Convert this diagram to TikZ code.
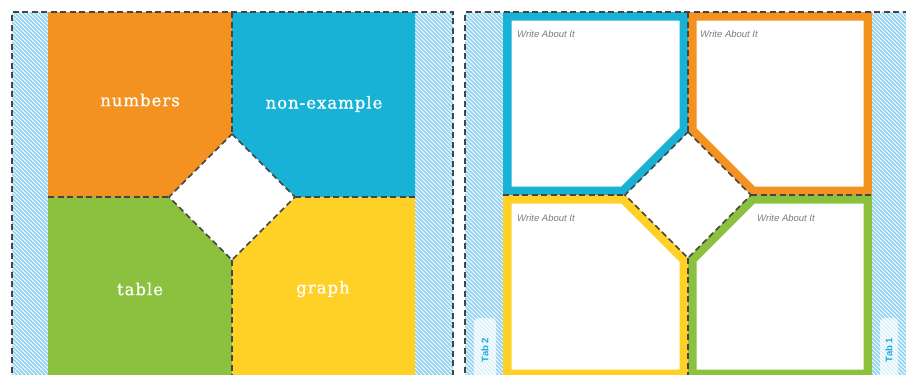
\documentclass[tikz,border=0pt]{standalone}
\usepackage{fontspec}
\setmainfont{DejaVu Serif}
\newfontfamily\labelfont[LetterSpace=6,FakeBold=0.7]{DejaVu Serif}
\newfontfamily\notefont{Liberation Sans}
\definecolor{cOrange}{HTML}{F39220}
\definecolor{cBlue}{HTML}{17B2D6}
\definecolor{cGreen}{HTML}{8BC13F}
\definecolor{cYellow}{HTML}{FFD026}
\definecolor{cHatch}{HTML}{8FD3F2}
\definecolor{cDash}{HTML}{454545}
\definecolor{cNote}{HTML}{7A7A7A}
\definecolor{cTab}{HTML}{1EA8DD}
\newcommand\hatchstrip[4]{%
  \fill[white] (#1,#2) rectangle (#3,#4);
  \begin{scope}
    \clip (#1,#2) rectangle (#3,#4);
    \foreach \c in {-390,-386,...,60} \draw[hatchln] (#1+\c,#2) -- ++(450,450);
  \end{scope}}
\newcommand\framequad[2]{% color, path
  \fill[white] #2;
  \begin{scope}
    \clip #2;
    \draw[line width=17pt, #1, line join=miter] #2;
  \end{scope}}
\begin{document}
\begin{tikzpicture}[x=1pt,y=-1pt,
  hatchln/.style={cHatch, line width=1.7pt},
  cutline/.style={cDash, line width=1.6pt, dash pattern=on 6pt off 3.5pt},
  lbl/.style={text=white, font=\labelfont\fontsize{16.5}{18}\selectfont},
  note/.style={text=cNote, font=\notefont\itshape\fontsize{9.5}{10}\selectfont, anchor=west, inner sep=0pt},
  tabbox/.style={fill=white, fill opacity=0.7, text opacity=1, rounded corners=4pt, text=cTab,
    font=\notefont\bfseries\fontsize{9.5}{10}\selectfont, minimum width=64pt, minimum height=22pt, inner sep=0pt}]
\useasboundingbox (0,0) rectangle (906,375);
% ---------------- left panel ----------------
\coordinate (Lt) at (232,12);
\coordinate (Ldt) at (232,134);
\coordinate (Ldl) at (169,197);
\coordinate (Ldr) at (295,197);
\coordinate (Ldb) at (232,260);
\coordinate (Lb) at (232,382);
\coordinate (Ll) at (48,197);
\coordinate (Lr) at (415,197);
\hatchstrip{12}{12}{48}{382}
\hatchstrip{415}{12}{453}{382}
\fill[cOrange] (48,12) -- (Lt) -- (Ldt) -- (Ldl) -- (Ll) -- cycle;
\fill[cBlue] (Lt) -- (415,12) -- (Lr) -- (Ldr) -- (Ldt) -- cycle;
\fill[cGreen] (Ll) -- (Ldl) -- (Ldb) -- (Lb) -- (48,382) -- cycle;
\fill[cYellow] (Ldb) -- (Ldr) -- (Lr) -- (415,382) -- (Lb) -- cycle;
\fill[white] (Ldt) -- (Ldr) -- (Ldb) -- (Ldl) -- cycle;
\draw[cutline] (Lt) -- (Ldt);
\draw[cutline] (Ldb) -- (Lb);
\draw[cutline] (Ll) -- (Ldl);
\draw[cutline] (Ldr) -- (Lr);
\draw[cutline] (Ldt) -- (Ldr) -- (Ldb) -- (Ldl) -- cycle;
\draw[cutline] (12,382) -- (12,12) -- (453,12) -- (453,382);
\node[lbl] (tnum) at (140,100) {numbers};
\node[lbl] (tnon) at (324,104) {non-example};
\node[lbl] (ttab) at (140,289) {table};
\node[lbl] (tgra) at (323,289) {graph};
% ---------------- right panel ----------------
\coordinate (Rt) at (688,12);
\coordinate (Rdt) at (688,132);
\coordinate (Rdl) at (625,195);
\coordinate (Rdr) at (751,195);
\coordinate (Rdb) at (688,258);
\coordinate (Rb) at (688,378);
\coordinate (Rl) at (503,195);
\coordinate (Rr) at (872,195);
\hatchstrip{465}{12}{503}{382}
\hatchstrip{872}{12}{912}{382}
\framequad{cBlue}{(503,12) -- (Rt) -- (Rdt) -- (Rdl) -- (Rl) -- cycle}
\framequad{cOrange}{(Rt) -- (872,12) -- (Rr) -- (Rdr) -- (Rdt) -- cycle}
\framequad{cYellow}{(Rl) -- (Rdl) -- (Rdb) -- (Rb) -- (503,378) -- cycle}
\framequad{cGreen}{(Rdb) -- (Rdr) -- (Rr) -- (872,378) -- (Rb) -- cycle}
\draw[cutline] (Rt) -- (Rdt);
\draw[cutline] (Rdb) -- (Rb);
\draw[cutline] (Rl) -- (Rdl);
\draw[cutline] (Rdr) -- (Rr);
\draw[cutline] (Rdt) -- (Rdr) -- (Rdb) -- (Rdl) -- cycle;
\draw[cutline] (465,382) -- (465,12) -- (912,12);
\node[note] (w1) at (517,34) {Write About It};
\node[note] (w2) at (700,34) {Write About It};
\node[note] (w3) at (517,218) {Write About It};
\node[note] (w4) at (757,218) {Write About It};
\node[tabbox, rotate=90] (tab2) at (485,350) {Tab 2};
\node[tabbox, rotate=90, minimum height=18pt] (tab1) at (889,350) {Tab 1};
\end{tikzpicture}
\end{document}
